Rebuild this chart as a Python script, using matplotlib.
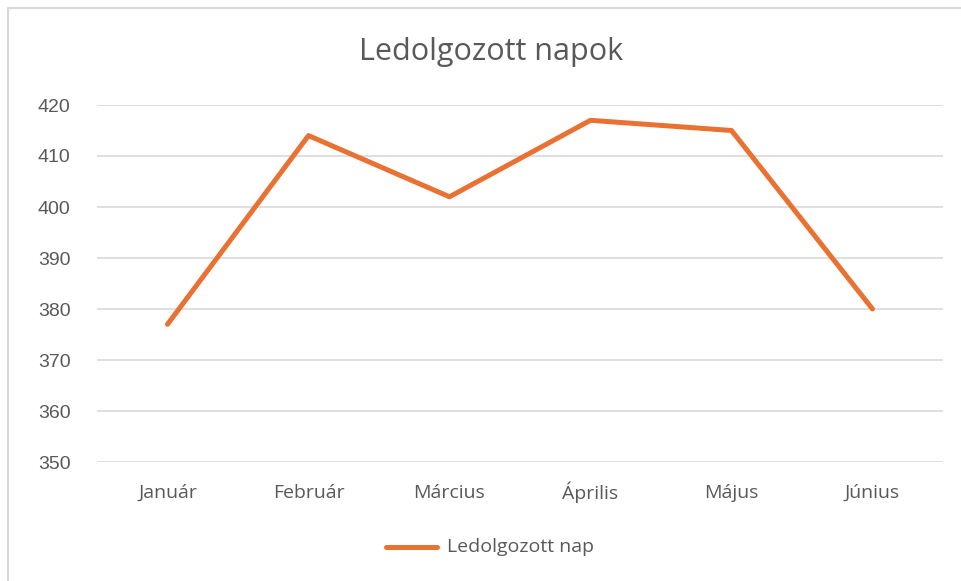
import matplotlib
matplotlib.use("Agg")
import matplotlib.pyplot as plt
from matplotlib.lines import Line2D

months = ["Január", "Február", "Március", "Április", "Május", "Június"]
worked_days = [377, 414, 402, 417, 415, 380]
y_ticks = [350, 360, 370, 380, 390, 400, 410, 420]

W, H = 962, 581
plt.rcParams['font.family'] = ['Open Sans', 'DejaVu Sans']
fig = plt.figure(figsize=(W / 100, H / 100), dpi=100)

# plot area in pixels: x 97..943, y 105..462
left, right, top, bottom = 97, 943, 105, 462
ax = fig.add_axes([left / W, 1 - bottom / H, (right - left) / W, (bottom - top) / H])

ax.plot(range(len(months)), worked_days, color='#E97132', linewidth=3.6,
        solid_capstyle='round', solid_joinstyle='round', zorder=3)
ax.set_xlim(-0.5, len(months) - 0.5)
ax.set_ylim(350, 420)
ax.set_yticks(y_ticks)
ax.set_xticks(range(len(months)))
ax.set_xticklabels(months)
ax.grid(axis='y', color='#D9D9D9', linewidth=1.2)
ax.set_axisbelow(True)
for s in ax.spines.values():
    s.set_visible(False)
ax.tick_params(length=0, labelcolor='#595959')
ax.tick_params(axis='y', pad=19)
ax.tick_params(axis='x', pad=22)
for lab in ax.get_yticklabels():
    lab.set_family(['Liberation Sans', 'DejaVu Sans'])
    lab.set_fontsize(14)
for lab in ax.get_xticklabels():
    lab.set_fontsize(14)
    lab.set_va('center')

fig.text(491 / W, 1 - 52 / H, "Ledolgozott napok", ha='center', va='center',
         fontsize=22, color='#595959')

# legend
fig.add_artist(Line2D([386 / W, 437 / W], [1 - 547 / H, 1 - 547 / H], color='#E97132',
                      linewidth=3.6, solid_capstyle='round'))
fig.text(447 / W, 1 - 547 / H, "Ledolgozott nap", ha='left', va='center',
         fontsize=14, color='#595959')

# chart border (top and left visible)
fig.add_artist(Line2D([8 / W, 8 / W, 1.01], [-0.01, 1 - 8 / H, 1 - 8 / H],
                      color='#D9D9D9', linewidth=1.5))

fig.savefig("out.png", dpi=100, facecolor='white')
